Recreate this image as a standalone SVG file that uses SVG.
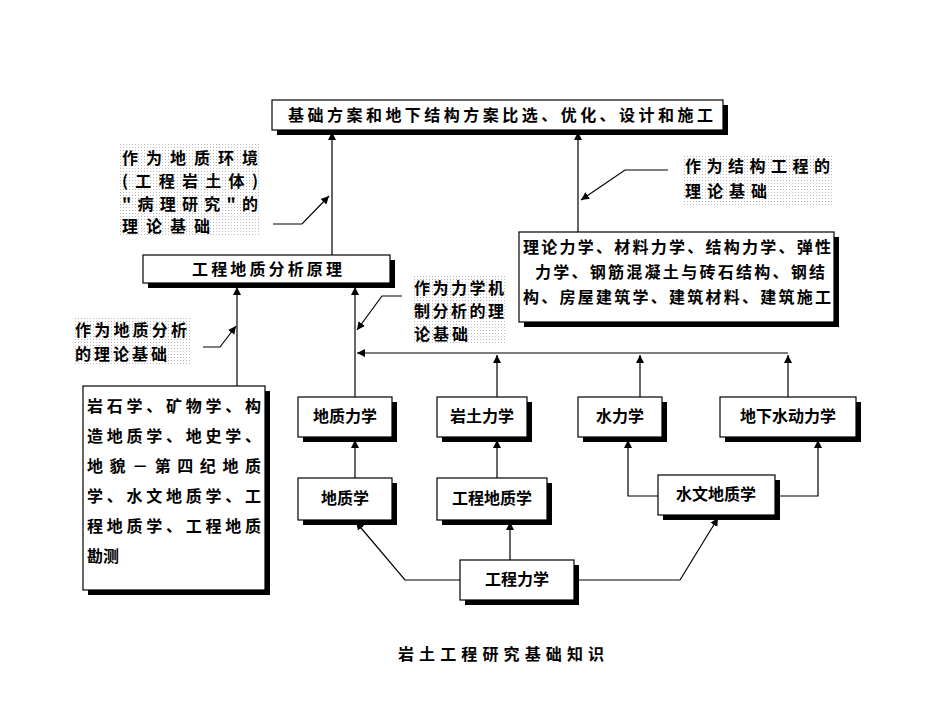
<svg xmlns="http://www.w3.org/2000/svg" width="950" height="713" viewBox="0 0 950 713">
<defs>
<marker id="a" viewBox="0 0 10 10" refX="10" refY="5" markerWidth="8" markerHeight="10" orient="auto" markerUnits="userSpaceOnUse"><path d="M0,0L10,5L0,10z" fill="#000"/></marker>
<pattern id="dots" width="3" height="3" patternUnits="userSpaceOnUse"><rect width="1" height="1" fill="#bbb"/></pattern>
<style>
text{font-family:"Noto Sans CJK SC","Liberation Sans",sans-serif;font-size:16px;fill:#000;font-weight:bold}
.b{fill:#fff;stroke:#000;stroke-width:1.2}
.s{fill:#000}
.l{fill:none;stroke:#000;stroke-width:1.2}
.d{fill:url(#dots)}
</style>
</defs>
<rect width="950" height="713" fill="#fff"/>
<g id="labels">
<rect class="d" x="118" y="142" width="142" height="94"/>
<text x="122" y="164" textLength="136" lengthAdjust="spacing">作为地质环境</text>
<text x="122" y="187" textLength="136" lengthAdjust="spacing">(工程岩土体)</text>
<text x="122" y="210" textLength="136" lengthAdjust="spacing">"病理研究"的</text>
<text x="122" y="232" textLength="88" lengthAdjust="spacing">理论基础</text>
<rect class="d" x="683" y="155" width="150" height="50"/>
<text x="685" y="172" textLength="145" lengthAdjust="spacing">作为结构工程的</text>
<text x="685" y="197" textLength="82" lengthAdjust="spacing">理论基础</text>
<rect class="d" x="73" y="318" width="118" height="48"/>
<text x="75" y="336" textLength="112" lengthAdjust="spacing">作为地质分析</text>
<text x="75" y="360" textLength="92" lengthAdjust="spacing">的理论基础</text>
<rect class="d" x="412" y="275" width="95" height="70"/>
<text x="414" y="294" textLength="90" lengthAdjust="spacing">作为力学机</text>
<text x="414" y="317" textLength="90" lengthAdjust="spacing">制分析的理</text>
<text x="414" y="340" textLength="54" lengthAdjust="spacing">论基础</text>
</g>
<g id="connectors">
<path class="l" d="M332,255V132" marker-end="url(#a)"/>
<path class="l" d="M273,224H302L329,196" marker-end="url(#a)"/>
<path class="l" d="M578,232V132" marker-end="url(#a)"/>
<path class="l" d="M668,170H625L581,200" marker-end="url(#a)"/>
<path class="l" d="M237,386V287" marker-end="url(#a)"/>
<path class="l" d="M203,347H220L236,326" marker-end="url(#a)"/>
<path class="l" d="M355,397V287" marker-end="url(#a)"/>
<path class="l" d="M402,296H382L357,330" marker-end="url(#a)"/>
<path class="l" d="M788,353H357" marker-end="url(#a)"/>
<path class="l" d="M497,397V355" marker-end="url(#a)"/>
<path class="l" d="M640,397V355" marker-end="url(#a)"/>
<path class="l" d="M788,397V355" marker-end="url(#a)"/>
<path class="l" d="M355,478V440" marker-end="url(#a)"/>
<path class="l" d="M497,478V440" marker-end="url(#a)"/>
<path class="l" d="M658,496H628V440" marker-end="url(#a)"/>
<path class="l" d="M775,496H818V440" marker-end="url(#a)"/>
<path class="l" d="M460,580H405L356,522" marker-end="url(#a)"/>
<path class="l" d="M510,560V522" marker-end="url(#a)"/>
<path class="l" d="M574,580H680L718,518" marker-end="url(#a)"/>
</g>
<g id="n-top"><rect class="s" x="277" y="105" width="451" height="30"/><rect class="b" x="272" y="100" width="451" height="30"/><text x="288" y="121" textLength="425" lengthAdjust="spacing">基础方案和地下结构方案比选、优化、设计和施工</text></g>
<g id="n-struct"><rect class="s" x="524" y="237" width="315" height="90"/><rect class="b" x="519" y="232" width="315" height="90"/><text x="523" y="253" textLength="308" lengthAdjust="spacing">理论力学、材料力学、结构力学、弹性</text><text x="535" y="278" textLength="290" lengthAdjust="spacing">力学、钢筋混凝土与砖石结构、钢结</text><text x="523" y="303" textLength="308" lengthAdjust="spacing">构、房屋建筑学、建筑材料、建筑施工</text></g>
<g id="n-principle"><rect class="s" x="148" y="260" width="247" height="28"/><rect class="b" x="143" y="255" width="247" height="28"/><text x="192" y="275" textLength="150" lengthAdjust="spacing">工程地质分析原理</text></g>
<g id="n-left"><rect class="s" x="88" y="391" width="182" height="204"/><rect class="b" x="83" y="386" width="182" height="204"/>
<text x="87" y="412" textLength="174" lengthAdjust="spacing">岩石学、矿物学、构</text><text x="87" y="442" textLength="174" lengthAdjust="spacing">造地质学、地史学、</text><text x="87" y="472" textLength="174" lengthAdjust="spacing">地貌－第四纪地质</text><text x="87" y="502" textLength="174" lengthAdjust="spacing">学、水文地质学、工</text><text x="87" y="532" textLength="174" lengthAdjust="spacing">程地质学、工程地质</text><text x="87" y="562">勘测</text></g>
<g id="n-dzlx"><rect class="s" x="303" y="402" width="94" height="40"/><rect class="b" x="298" y="397" width="94" height="40"/><text x="345" y="422" text-anchor="middle">地质力学</text></g>
<g id="n-ytlx"><rect class="s" x="442" y="402" width="90" height="40"/><rect class="b" x="437" y="397" width="90" height="40"/><text x="482" y="422" text-anchor="middle">岩土力学</text></g>
<g id="n-sl"><rect class="s" x="583" y="402" width="84" height="40"/><rect class="b" x="578" y="397" width="84" height="40"/><text x="620" y="422" text-anchor="middle">水力学</text></g>
<g id="n-dxs"><rect class="s" x="725" y="402" width="136" height="40"/><rect class="b" x="720" y="397" width="136" height="40"/><text x="788" y="422" text-anchor="middle">地下水动力学</text></g>
<g id="n-dzx"><rect class="s" x="303" y="483" width="94" height="42"/><rect class="b" x="298" y="478" width="94" height="42"/><text x="345" y="504" text-anchor="middle">地质学</text></g>
<g id="n-gcdz"><rect class="s" x="442" y="483" width="110" height="42"/><rect class="b" x="437" y="478" width="110" height="42"/><text x="492" y="504" text-anchor="middle">工程地质学</text></g>
<g id="n-swdz"><rect class="s" x="663" y="480" width="117" height="40"/><rect class="b" x="658" y="475" width="117" height="40"/><text x="716" y="500" text-anchor="middle">水文地质学</text></g>
<g id="n-gclx"><rect class="s" x="465" y="565" width="114" height="40"/><rect class="b" x="460" y="560" width="114" height="40"/><text x="517" y="585" text-anchor="middle">工程力学</text></g>
<text x="398" y="660" textLength="206" lengthAdjust="spacing">岩土工程研究基础知识</text>
</svg>
